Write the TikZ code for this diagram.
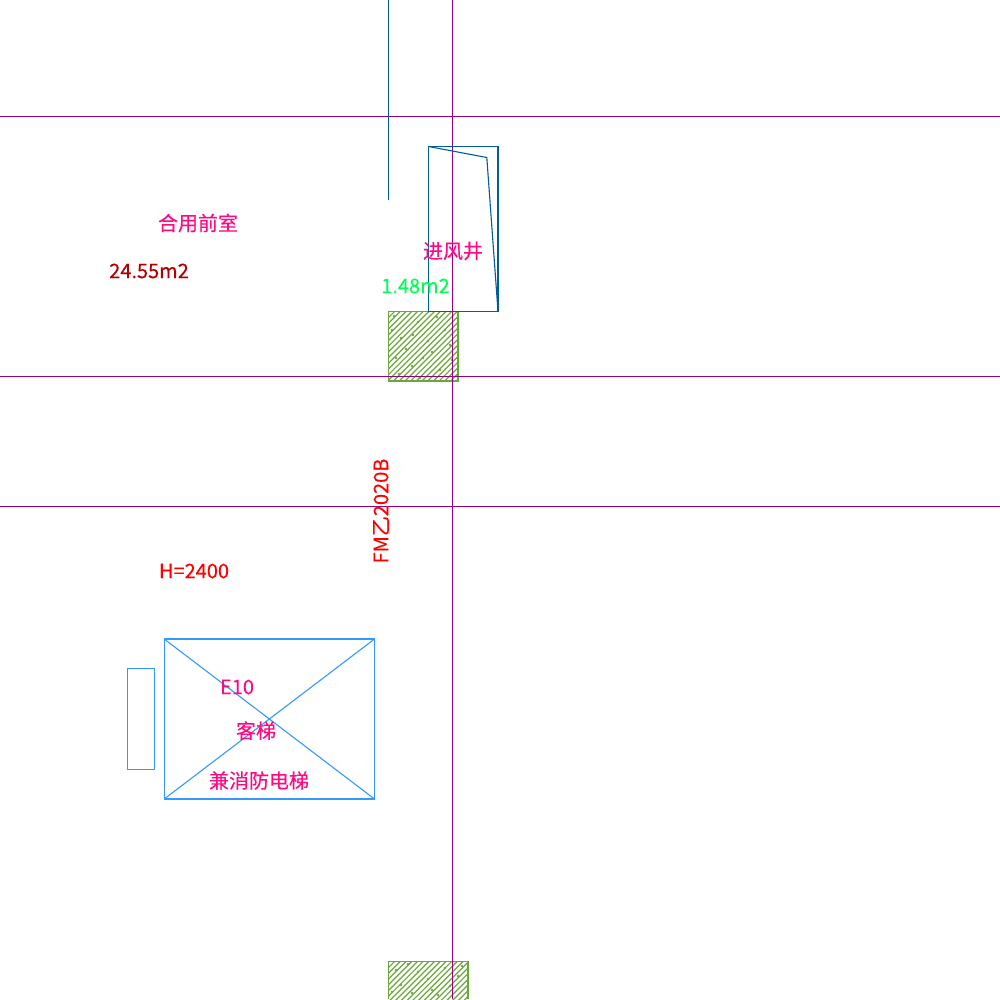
\documentclass[tikz,border=0pt]{standalone}
\usepackage{fontspec}
\setmainfont[FakeBold=0.25]{Noto Sans CJK SC}
\definecolor{axiscol}{HTML}{990080}
\definecolor{shaftcol}{HTML}{005BA0}
\definecolor{liftcol}{HTML}{3399FF}
\definecolor{hatchcol}{HTML}{6AA83A}
\definecolor{namecol}{HTML}{FF0A82}
\definecolor{areacol}{HTML}{B00000}
\definecolor{shaftarea}{HTML}{00FF55}
\tikzstyle{label} = [inner sep=0, font=\fontsize{20}{20}\selectfont]
\tikzstyle{axis} = [axiscol, line width=1pt]
\tikzstyle{shaft} = [shaftcol, line width=1.1pt]
\tikzstyle{lift} = [liftcol, line width=1.1pt]

\begin{document}
\begin{tikzpicture}[x=1pt, y=-1pt]
\useasboundingbox (0,0) rectangle (1000,999);

% hatched columns
\begin{scope}
\clip (388,311) rectangle (458,381);
\foreach \i in {0,5.7,...,165}
{
	\draw[hatchcol, line width=1.2pt] (380+\i-80,389) -- (380+\i,309);
}
\foreach \x/\y in {401/338,418/322,432/352,445/330,412/366,428/341,396/358,440/370,
	394/316,406/349,423/358,450/345,392/330,413/335,437/317,452/360,399/374,420/378}
{
	\fill[hatchcol] (\x,\y) circle (1.3);
}
\end{scope}
\draw[hatchcol, line width=1.4pt] (388.5,311.5) rectangle (458,381);

\begin{scope}
\clip (388,961) rectangle (468,999);
\foreach \i in {0,5.7,...,170}
{
	\draw[hatchcol, line width=1.2pt] (380+\i-50,1009) -- (380+\i,959);
}
\foreach \x/\y in {401/985,418/972,432/990,445/968,412/993,428/979,396/970,458/976,
	450/986,462/966,392/992,408/964,438/995}
{
	\fill[hatchcol] (\x,\y) circle (1.3);
}
\end{scope}
\draw[hatchcol, line width=1.4pt] (388.5,999) -- (388.5,961.5) -- (468,961.5) -- (468,999);

% axis lines
\coordinate (a1) at (0,116.5);
\coordinate (b1) at (1000,116.5);
\coordinate (a2) at (0,376.5);
\coordinate (b2) at (1000,376.5);
\coordinate (a3) at (0,506.5);
\coordinate (b3) at (1000,506.5);
\coordinate (a4) at (452.8,0);
\coordinate (b4) at (452.8,999);
\foreach \from/\to in {a1/b1,a2/b2,a3/b3,a4/b4}
{
	\draw[axis] (\from) -- (\to);
}

% air shaft
\coordinate (s1) at (428.5,146.5);
\coordinate (s2) at (498,146.5);
\coordinate (s3) at (498,311.5);
\coordinate (s4) at (428.5,311.5);
\coordinate (s5) at (486.8,157.5);
\coordinate (w1) at (388.5,0);
\coordinate (w2) at (388.5,199.5);
\draw[shaft] (s1) -- (s2) -- (s3) -- (s4) -- cycle;
\draw[shaft] (s1) -- (s5) -- (s3);
\draw[shaft] (w1) -- (w2);

% lift
\coordinate (l1) at (164.2,639);
\coordinate (l2) at (374.5,639);
\coordinate (l3) at (374.5,799);
\coordinate (l4) at (164.2,799);
\coordinate (c1) at (127.5,668.5);
\coordinate (c2) at (154.5,769.5);
\draw[lift] (l1) -- (l2) -- (l3) -- (l4) -- cycle;
\foreach \from/\to in {l1/l3,l2/l4}
{
	\draw[lift] (\from) -- (\to);
}
\draw[lift] (c1) rectangle (c2);

\node[label, text=namecol] (lobby) at (198,223) {合用前室};
\node[label, text=areacol] (lobbyarea) at (149,271) {24.55m2};
\node[label, text=namecol] (shaftname) at (453,251) {进风井};
\node[label, text=shaftarea] (shaftsize) at (415.5,286) {1.48m2};
\node[label, text=red, rotate=90] (door) at (381,511) {FM乙2020B};
\node[label, text=red] (height) at (194,571) {H=2400};
\node[label, text=namecol] (liftno) at (237,687) {E10};
\node[label, text=namecol] (lifttype) at (256,730.5) {客梯};
\node[label, text=namecol] (liftuse) at (259,780.5) {兼消防电梯};
\end{tikzpicture}
\end{document}
